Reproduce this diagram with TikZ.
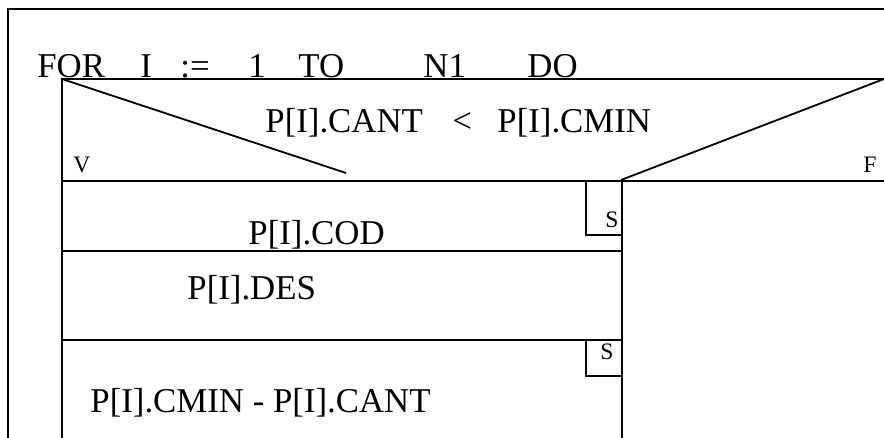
\documentclass[tikz,border=0pt]{standalone}
\usepackage{fontspec}
\setmainfont{Liberation Serif}
\usepackage{tikz}
\usetikzlibrary{calc}

\tikzset{
  bigtxt/.style={anchor=base west, inner sep=0pt, font=\fontsize{17.4}{20}\selectfont},
  smalltxt/.style={anchor=base west, inner sep=0pt, font=\fontsize{11.8}{14}\selectfont},
  rule/.style={line width=0.9pt}
}

\begin{document}
\begin{tikzpicture}[x=0.5pt, y=-0.5pt]
            \useasboundingbox (0,0) rectangle (884,438);
            % loop frame and condition block
            \coordinate (loopTL) at (8,9);
            \coordinate (condTL) at (62,79);
            \coordinate (condBL) at (62,181);
            \coordinate (condV) at (346,173);
            \coordinate (split) at (622,181);
            \draw[rule] (8,438) -- (loopTL) -- (884,9);
            \draw[rule] (62,438) -- (condTL) -- (884,79);
            \draw[rule] (condBL) -- (884,181);
            \draw[rule] (condTL) -- (condV);
            \draw[rule] (621,180) -- (884,79);
            \draw[rule] (split) -- (622,438);
            \draw[rule] (62,251) -- (622,251);
            \draw[rule] (62,340) -- (622,340);
            \draw[rule] (586,181) rectangle (622,235);
            \draw[rule] (586,340) rectangle (622,376);
            % header words
            \foreach \x/\t/\n in {37/FOR/wfor, 140/I/wi, 180/{:=}/wset, 248/1/wone, 298/TO/wto, 423/N1/wn, 527/DO/wdo} {
                \node[bigtxt] (\n) at (\x,78) {\t};
            }
            \node[bigtxt] (cantA) at (265,133) {P[I].CANT};
            \node[bigtxt] (lt) at (452,133) {<};
            \node[bigtxt] (cmin) at (497,133) {P[I].CMIN};
            \node[smalltxt] (v) at (73,173) {V};
            \node[smalltxt] (f) at (863,173) {F};
            \node[smalltxt] (s1) at (605,228) {S};
            \node[smalltxt] (s2) at (600,360) {S};
            \node[bigtxt] (cod) at (248,245) {P[I].COD};
            \node[bigtxt] (des) at (187,300) {P[I].DES};
            \node[bigtxt] (diff) at (90,412) {P[I].CMIN - P[I].CANT};
        \end{tikzpicture}
\end{document}
